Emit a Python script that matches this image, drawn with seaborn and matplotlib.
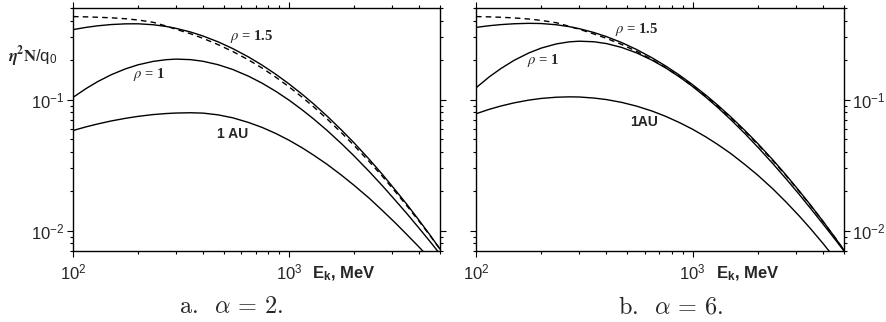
"""
Two-panel log-log plot of eta^2 N / q0 versus kinetic energy for alpha = 2 and alpha = 6.
"""

import matplotlib.pyplot as plt
import seaborn as sns
from matplotlib.ticker import NullFormatter

sns.set_style("ticks")
plt.rcParams["font.family"] = ["Liberation Sans", "DejaVu Sans"]
plt.rcParams["mathtext.fontset"] = "custom"
plt.rcParams["mathtext.rm"] = "Liberation Sans"
plt.rcParams["mathtext.bf"] = "Liberation Sans:bold"
plt.rcParams["mathtext.it"] = "Liberation Sans:italic"

# kinetic energy, MeV
energy = [100, 115, 130, 150, 175, 200, 235, 270, 300, 350, 400, 470, 550, 650, 750,
          870, 1000, 1150, 1300, 1500, 1750, 2000, 2350, 2700, 3100, 3500, 4000, 4500, 5000]

# panel a, alpha = 2
au1_a = [0.0581, 0.0620, 0.0652, 0.0687, 0.0720, 0.0745, 0.0769, 0.0783, 0.0790, 0.0794,
         0.0789, 0.0765, 0.0726, 0.0669, 0.0614, 0.0551, 0.0490, 0.0429, 0.0377, 0.0321,
         0.0265, 0.0222, 0.0177, 0.0143, 0.0115, 0.0094, 0.0075, 0.0061, 0.0050]
rho1_a = [0.104, 0.1215, 0.1371, 0.1546, 0.1717, 0.1843, 0.1957, 0.2017, 0.2037, 0.2019,
          0.1961, 0.1846, 0.1696, 0.1508, 0.1336, 0.1155, 0.0991, 0.0836, 0.0712, 0.0582,
          0.0461, 0.0372, 0.0283, 0.0221, 0.0171, 0.0136, 0.01045, 0.00825, 0.00664]
rho15_a = [0.342, 0.3558, 0.3656, 0.3738, 0.3785, 0.3789, 0.3727, 0.3615, 0.3496, 0.3280,
           0.3056, 0.2758, 0.2447, 0.2114, 0.1834, 0.1558, 0.1318, 0.1099, 0.0927, 0.0749,
           0.0586, 0.0468, 0.0351, 0.0270, 0.0205, 0.0160, 0.0120, 0.00924, 0.00724]
limit_a = [0.430, 0.428, 0.425, 0.421, 0.414, 0.405, 0.389, 0.364, 0.344, 0.318,
           0.2934, 0.2626, 0.2325, 0.2008, 0.1742, 0.148, 0.1252, 0.1044, 0.0881, 0.0712,
           0.0558, 0.0447, 0.0337, 0.0261, 0.0199, 0.0156, 0.0118, 0.00915, 0.00724]

# panel b, alpha = 6
au1_b = [0.0780, 0.0843, 0.0893, 0.0945, 0.0991, 0.1021, 0.1043, 0.1050, 0.1047, 0.1028,
         0.1001, 0.0953, 0.0893, 0.0818, 0.0746, 0.0668, 0.0594, 0.0520, 0.0457, 0.0388,
         0.0318, 0.0265, 0.0208, 0.01655, 0.0130, 0.01038, 0.00799, 0.00626, 0.00497]
rho1_b = [0.1230, 0.1489, 0.1722, 0.1995, 0.2267, 0.2472, 0.2661, 0.2760, 0.2790, 0.2764,
          0.2677, 0.2502, 0.2277, 0.1998, 0.1748, 0.1489, 0.1259, 0.1045, 0.0877, 0.0704,
          0.0547, 0.0434, 0.0324, 0.0249, 0.0190, 0.01484, 0.01125, 0.00878, 0.0070]
rho15_b = [0.3556, 0.3663, 0.3734, 0.3791, 0.3819, 0.3806, 0.3725, 0.3600, 0.3476, 0.3251,
           0.3025, 0.2726, 0.2416, 0.2085, 0.1809, 0.1537, 0.1300, 0.1084, 0.0914, 0.0739,
           0.0578, 0.0462, 0.0346, 0.0266, 0.0202, 0.01573, 0.0118, 0.00907, 0.0071]
limit_b = [0.430, 0.428, 0.425, 0.420, 0.412, 0.402, 0.386, 0.362, 0.344, 0.317,
           0.2934, 0.2639, 0.2339, 0.2022, 0.1758, 0.1499, 0.1271, 0.1062, 0.0896, 0.0726,
           0.0569, 0.0455, 0.0341, 0.0263, 0.0200, 0.0156, 0.01174, 0.00905, 0.0071]

panels = [
    dict(curves=[au1_a, rho1_a, rho15_a], limit=limit_a, caption=r"a.  $\alpha\,=\,2.$",
         labels=[(r"$\rho$ = 1.5", 0.428, 0.868, "rho"), (r"$\rho$ = 1", 0.163, 0.712, "rho"),
                 ("1 AU", 0.392, 0.465, "au")]),
    dict(curves=[au1_b, rho1_b, rho15_b], limit=limit_b, caption=r"b.  $\alpha\,=\,6.$",
         labels=[(r"$\rho$ = 1.5", 0.378, 0.897, "rho"), (r"$\rho$ = 1", 0.139, 0.770, "rho"),
                 ("1AU", 0.418, 0.514, "au")]),
]

fig = plt.figure(figsize=(8.87, 3.22), dpi=100)
positions = [[73 / 887, 71 / 322, 367 / 887, 243 / 322],
             [476 / 887, 71 / 322, 368 / 887, 243 / 322]]
caption_x = [231 / 887, 671 / 887]

for i, (panel, pos) in enumerate(zip(panels, positions)):
    ax = fig.add_axes(pos)
    for y in panel["curves"]:
        sns.lineplot(x=energy, y=y, ax=ax, color="black", linewidth=1.0, sort=False)
    sns.lineplot(x=energy, y=panel["limit"], ax=ax, color="black", linewidth=1.0,
                 linestyle=(0, (4, 3)), sort=False)
    ax.set(xscale="log", yscale="log", xlim=(100, 5000), ylim=(0.007, 0.5),
           xlabel="", ylabel="")
    ax.xaxis.set_minor_formatter(NullFormatter())
    ax.yaxis.set_minor_formatter(NullFormatter())
    ax.tick_params(which="both", direction="out", top=True, right=True,
                   labelsize=12, width=0.8, color="black")
    ax.tick_params(which="major", length=4)
    ax.tick_params(which="minor", length=2.5)
    ax.tick_params(axis="x", pad=4)
    ax.tick_params(axis="y", pad=2)
    if i == 1:
        ax.tick_params(axis="y", labelleft=False, labelright=True)
    for sp in ax.spines.values():
        sp.set_linewidth(1.0)
        sp.set_color("black")

    for text, tx, ty, kind in panel["labels"]:
        if kind == "rho":
            ax.text(tx, ty, text, transform=ax.transAxes, fontsize=10.5,
                    family="Liberation Serif", fontweight="bold",
                    math_fontfamily="stix", va="baseline")
        else:
            ax.text(tx, ty, text, transform=ax.transAxes, fontsize=10,
                    fontweight="bold", va="baseline")

    ax.text(0.651, -0.111, r"E$_\mathbf{k}$, MeV", transform=ax.transAxes,
            fontsize=12, fontweight="bold", va="baseline")

    fig.text(caption_x[i], 1 - 313 / 322, panel["caption"], fontsize=17.5,
             family="cmr10", math_fontfamily="cm", ha="center", va="baseline")

fig.text(8 / 887, 1 - 62 / 322, r"$\boldsymbol{\eta}^\mathbf{2}\mathbf{N}$/q$_\mathregular{0}$",
         fontsize=12, math_fontfamily="stix", va="baseline")

fig.savefig("out.png", dpi=100)
